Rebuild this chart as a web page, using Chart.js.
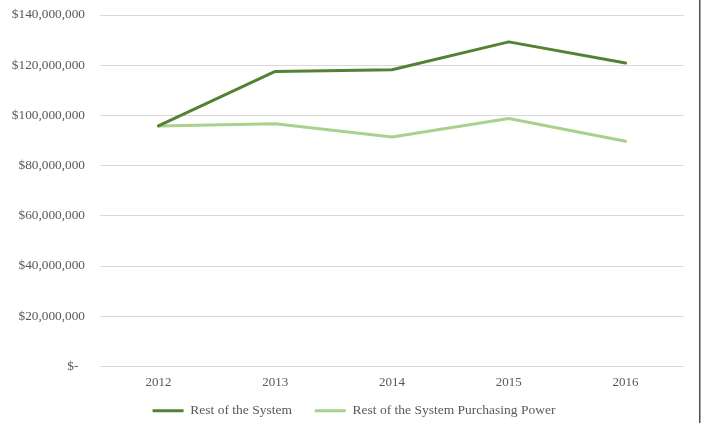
<!DOCTYPE html>
<html>
<head>
<meta charset="utf-8">
<style>
  html, body { margin: 0; padding: 0; background: #ffffff; }
  #wrap { position: relative; width: 702px; height: 423px; }
  canvas { display: block; }
</style>
<script src="https://cdn.jsdelivr.net/npm/chart.js@4"></script>
</head>
<body>
<div id="wrap"><canvas id="c" width="702" height="423"></canvas></div>
<script>
const categories = ["2012", "2013", "2014", "2015", "2016"];
const seriesNames = ["Rest of the System", "Rest of the System Purchasing Power"];
const restOfSystem = [95800000, 117500000, 118200000, 129300000, 120900000];
const purchasingPower = [95800000, 96700000, 91400000, 98800000, 89700000];
const yTickValues = [0, 20000000, 40000000, 60000000, 80000000, 100000000, 120000000, 140000000];

const textColor = "#595959";
const fontFamily = "'Liberation Serif', 'Times New Roman', serif";

function fmtMoney(v) {
  if (v === 0) return "$-  ";
  return "$" + v.toLocaleString("en-US");
}

const rightBorder = {
  id: "rightBorder",
  afterLayout(chart) {
    const lg = chart.legend;
    if (lg) { lg.left += 12; lg.right += 12; }
  },
  afterDraw(chart) {
    const ctx = chart.ctx;
    ctx.save();
    ctx.strokeStyle = "#4d4d4d";
    ctx.lineWidth = 1.5;
    ctx.beginPath();
    ctx.moveTo(699.75, 0);
    ctx.lineTo(699.75, chart.height);
    ctx.stroke();
    ctx.restore();
  }
};

new Chart(document.getElementById("c"), {
  type: "line",
  data: {
    labels: categories,
    datasets: [
      {
        label: seriesNames[0],
        data: restOfSystem,
        borderColor: "#548235",
        backgroundColor: "#548235",
        borderWidth: 3,
        pointRadius: 0,
        tension: 0,
        borderJoinStyle: "round",
        borderCapStyle: "round"
      },
      {
        label: seriesNames[1],
        data: purchasingPower,
        borderColor: "#a9d18e",
        backgroundColor: "#a9d18e",
        borderWidth: 3,
        pointRadius: 0,
        tension: 0,
        borderJoinStyle: "round",
        borderCapStyle: "round"
      }
    ]
  },
  options: {
    responsive: false,
    animation: false,
    devicePixelRatio: 1,
    layout: { padding: { top: 0, right: 18, bottom: -4.5, left: 0 } },
    plugins: {
      tooltip: { enabled: false },
      legend: {
        position: "bottom",
        labels: {
          color: textColor,
          font: { family: fontFamily, size: 13.5 },
          boxWidth: 31,
          boxHeight: 3,
          padding: 6,
          generateLabels(chart) {
            return Chart.defaults.plugins.legend.labels.generateLabels(chart).map((l, i) => ({
              ...l,
              text: i === 0 ? l.text + "     " : l.text,
              lineWidth: 0,
              fillStyle: l.strokeStyle
            }));
          }
        }
      }
    },
    scales: {
      x: {
        offset: true,
        grid: { display: false, drawTicks: false },
        border: { display: false },
        ticks: { color: textColor, font: { family: fontFamily, size: 13 }, padding: 8 }
      },
      y: {
        min: 0,
        max: 140000000,
        afterBuildTicks(axis) { axis.ticks = yTickValues.map(v => ({ value: v })); },
        afterFit(axis) { axis.width = 100; axis.paddingTop = 15; },
        grid: { color: "#d9d9d9", lineWidth: 1, drawTicks: false },
        border: { display: false },
        ticks: {
          color: textColor,
          font: { family: fontFamily, size: 13.3 },
          padding: 15,
          callback: v => fmtMoney(v)
        }
      }
    }
  },
  plugins: [rightBorder]
});
</script>
</body>
</html>
